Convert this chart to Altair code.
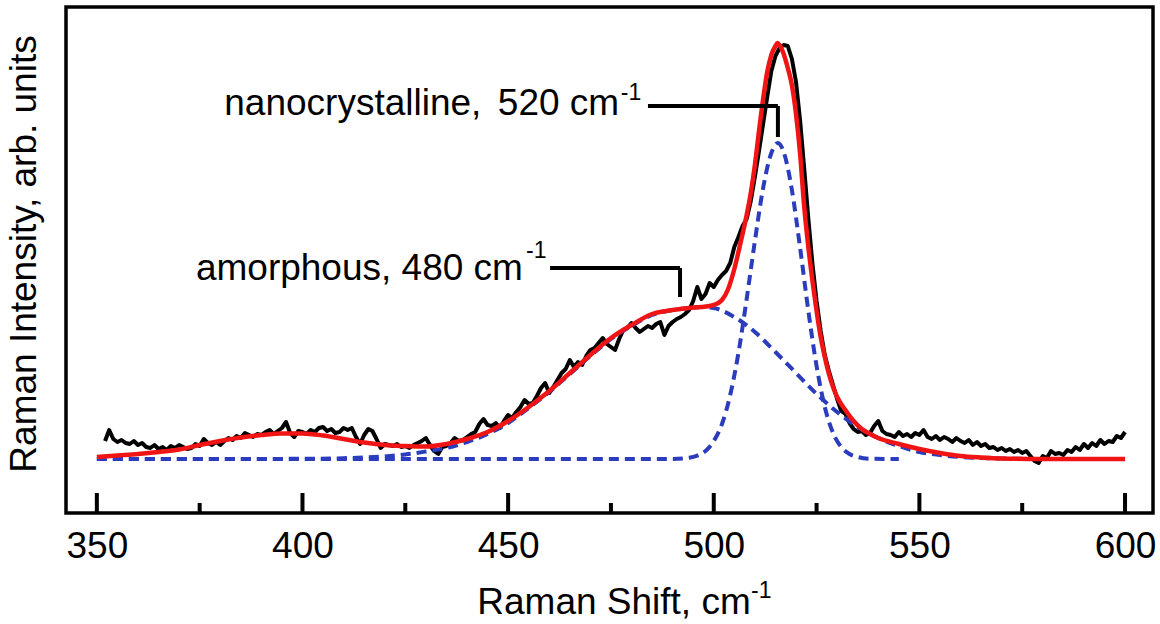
import altair as alt
import pandas as pd

# ---------------- data ----------------
# measured Raman spectrum (black), x in cm^-1, intensity in arb. units
black_x = list(range(352, 601))
black_y = [
    18, 29, 20, 17, 19, 16, 15, 18, 14, 16,
    12, 11, 14, 10, 12, 9, 13, 11, 14, 12,
    10, 11, 15, 13, 20, 16, 14, 17, 14, 18,
    21, 19, 23, 21, 26, 24, 22, 25, 24, 27,
    29, 25, 28, 31, 37, 26, 22, 28, 27, 25,
    29, 27, 31, 32, 28, 30, 26, 27, 31, 29,
    31, 22, 15, 24, 30, 28, 20, 11, 15, 14,
    13, 15, 12, 13, 11, 14, 16, 18, 21, 14,
    8, 5, 12, 13, 16, 21, 18, 19, 22, 25,
    27, 35, 40, 34, 33, 36, 31, 38, 44, 41,
    47, 52, 59, 55, 56, 63, 71, 76, 66, 72,
    79, 86, 90, 99, 92, 97, 94, 103, 109, 111,
    116, 121, 115, 112, 109, 120, 129, 131, 136, 131,
    127, 130, 133, 131, 135, 137, 124, 133, 137, 140,
    142, 145, 149, 158, 172, 160, 165, 176, 172, 179,
    184, 188, 196, 212, 222, 233, 240, 258, 282, 308,
    335, 362, 388, 403, 411, 414, 413, 400, 377, 338,
    290, 240, 195, 158, 128, 104, 88, 74, 60, 48,
    45, 36, 30, 27, 28, 24, 26, 33, 38, 28,
    25, 24, 22, 27, 23, 25, 22, 26, 24, 29,
    22, 20, 23, 19, 22, 20, 17, 21, 18, 16,
    19, 14, 17, 13, 15, 11, 12, 9, 11, 8,
    10, 7, 9, 6, 8, 3, -2, -4, 3, 1,
    8, 5, 6, 4, 9, 7, 12, 9, 15, 11,
    16, 13, 19, 15, 18, 17, 23, 21, 27,
]

# total fit (red)
fit_x = [350, 355, 360, 365, 370, 375, 380, 385, 390, 395,
         400, 405, 410, 415, 420, 425, 430, 435, 440, 445,
         450, 455, 460, 465, 470, 475, 480, 485, 490, 494,
         497, 500, 502, 503.5, 505, 506.5, 508, 509, 510, 511,
         512, 513, 514, 515, 515.5, 516, 517, 518, 519, 520,
         521, 522, 523, 524, 525, 526, 527, 528, 529, 530,
         532, 534, 536, 538, 540, 545, 550, 555, 560, 565,
         570, 580, 590, 600]
fit_y = [2, 3.5, 5, 7, 9.5, 14, 18, 21.5, 24, 25.5,
         25.5, 23.5, 20, 16.5, 14, 13, 12.5, 15, 20, 27,
         38, 52, 68, 86, 104, 121, 134, 145, 149, 151,
         152, 154, 159, 170, 190, 216, 244, 266, 294, 328,
         360, 387, 404, 413, 416, 414, 405, 391, 374, 345,
         305, 252, 212, 178, 148, 122, 102, 85, 72, 62,
         49, 38, 30, 25, 21, 15, 10, 6, 3, 1.5,
         0.5, 0, 0, 0]

# amorphous component (blue dashed)
amo_x = [350, 380, 400, 410, 420, 425, 430, 435, 440, 445,
         450, 455, 460, 465, 470, 475, 480, 485, 490, 494,
         497, 500, 505, 510, 515, 520, 525, 530, 535, 540,
         545, 550, 555, 560, 565, 570, 580, 600]
amo_y = [0, 0, 0.2, 0.8, 2.6, 4.5, 7.5, 11, 17, 25,
         36, 51, 67, 85, 103, 120, 133, 144, 149, 151,
         152, 151, 142, 127, 107, 86, 65, 47, 32, 21,
         13, 7, 4, 2, 1, 0.5, 0, 0]

# nanocrystalline component (blue dashed)
cry_x = [350, 490, 494, 496, 498, 500, 502, 504, 506, 508,
         510, 512, 514, 515.6, 517, 519, 521, 523, 525, 527,
         529, 531, 533, 535, 538, 545]
cry_y = [0, 0.1, 1.3, 3.4, 8, 18, 35, 64, 106, 160,
         218, 271, 306, 316, 307, 269, 211, 148, 93, 52,
         26, 12, 5, 2, 0.3, 0]

major_ticks = [350, 400, 450, 500, 550, 600]
minor_ticks = [375, 425, 475, 525, 575]

# ---------------- styling ----------------
FONT = "Liberation Sans"
RED = "#f01414"
BLUE = "#2b3cbd"
W, H = 1087, 506

xs = alt.Scale(domain=[342.5, 606.8], nice=False, zero=False)
ys = alt.Scale(domain=[-54, 452], nice=False, zero=False)

x_axis = alt.Axis(
    title="Raman Shift, cm", values=major_ticks, format="d",
    ticks=False, tickSize=0, domain=False, grid=False,
    labelFontSize=37, labelFont=FONT, labelColor="black", labelPadding=15,
    labelFlush=False, labelOverlap=False,
    titleFontSize=37, titleFont=FONT, titleFontWeight="normal", titleColor="black",
    titleX=547.5, titleY=100, titleAlign="center", titleBaseline="alphabetic",
)
y_axis = alt.Axis(
    title="Raman Intensity, arb. units", labels=False, ticks=False,
    domain=False, grid=False,
    titleFontSize=37, titleFont=FONT, titleFontWeight="normal", titleColor="black",
    titleAngle=270, titleX=-31, titleY=246.5, titleAlign="center",
    titleBaseline="alphabetic",
)

X = alt.X("x:Q", scale=xs, axis=x_axis)
Y = alt.Y("y:Q", scale=ys, axis=y_axis)


def line(xv, yv, **mark):
    return alt.Chart(pd.DataFrame({"x": xv, "y": yv})).mark_line(**mark).encode(x=X, y=Y)


one = alt.Data(values=[{"k": 0}])

black = line(black_x, black_y, color="black", strokeWidth=4, strokeJoin="round")
amo = line(amo_x, amo_y, color=BLUE, strokeWidth=4, strokeDash=[10, 6],
           interpolate="monotone")
cry = line(cry_x, cry_y, color=BLUE, strokeWidth=4, strokeDash=[10, 6],
           interpolate="monotone")
fit = line(fit_x, fit_y, color=RED, strokeWidth=4.5, interpolate="monotone")

tick_major = alt.Chart(pd.DataFrame({"x": major_ticks})).mark_rule(
    color="black", strokeWidth=4).encode(x=X, y=alt.value(H), y2=alt.value(H - 20))
tick_minor = alt.Chart(pd.DataFrame({"x": minor_ticks})).mark_rule(
    color="black", strokeWidth=4).encode(x=X, y=alt.value(H), y2=alt.value(H - 10))


def rule(**enc):
    return alt.Chart(one).mark_rule(color="black", strokeWidth=4).encode(**enc)


def text(t, x, y, align="left", size=37):
    return alt.Chart(one).mark_text(
        text=t, align=align, baseline="alphabetic", fontSize=size, font=FONT,
        color="black").encode(x=x, y=y)


nano_h = rule(x=alt.datum(484.0), x2=alt.datum(515.6), y=alt.datum(353))
nano_v = rule(x=alt.datum(515.6), y=alt.datum(353), y2=alt.datum(322))
amo_h = rule(x=alt.datum(460.2), x2=alt.datum(491.8), y=alt.datum(191))
amo_v = rule(x=alt.datum(491.8), y=alt.datum(191), y2=alt.datum(162))

t1 = text("nanocrystalline,", alt.datum(443.5), alt.datum(344), align="right")
t2 = text("520 cm", alt.datum(447.5), alt.datum(344))
t3 = text("-1", alt.datum(477.4), alt.datum(359), size=23)
t4 = text("amorphous, 480 cm", alt.datum(453.6), alt.datum(179), align="right")
t5 = text("-1", alt.datum(454.35), alt.datum(201), size=23)
t6 = text("-1", alt.value(685), alt.value(591), size=23)

chart = alt.layer(
    black, amo, cry, fit, tick_major, tick_minor,
    nano_h, nano_v, amo_h, amo_v, t1, t2, t3, t4, t5, t6,
).properties(
    width=W, height=H, background="white",
    padding={"left": 66, "top": 7, "right": 7, "bottom": 111},
    autosize=alt.AutoSizeParams(type="none"),
).configure_view(
    stroke="black", strokeWidth=3.5, strokeOpacity=1
)

chart.save("out.html", embed_options={"renderer": "svg", "actions": False})
